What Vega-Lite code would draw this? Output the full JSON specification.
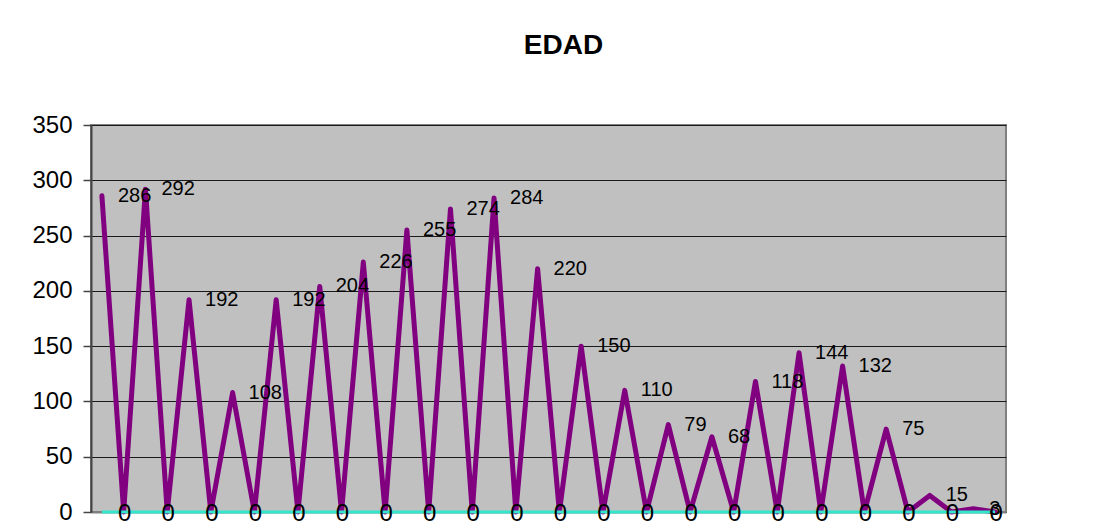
{
  "$schema": "https://vega.github.io/schema/vega-lite/v6.json",
  "autosize": "none",
  "width": 915,
  "height": 387,
  "padding": {"left": 91, "top": 125, "right": 101, "bottom": 18},
  "background": "white",
  "config": {
    "font": "Liberation Sans",
    "view": {"fill": "#C0C0C0", "stroke": "#808080", "strokeWidth": 2}
  },
  "title": {
    "text": "EDAD",
    "font": "Liberation Sans",
    "fontSize": 28,
    "fontWeight": "bold",
    "color": "black",
    "frame": "group",
    "anchor": "middle",
    "dx": 15,
    "offset": 53
  },
  "data": {
    "values": [
      {"i": 1, "v": 286}, {"i": 2, "v": 0}, {"i": 3, "v": 292}, {"i": 4, "v": 0},
      {"i": 5, "v": 192}, {"i": 6, "v": 0}, {"i": 7, "v": 108}, {"i": 8, "v": 0},
      {"i": 9, "v": 192}, {"i": 10, "v": 0}, {"i": 11, "v": 204}, {"i": 12, "v": 0},
      {"i": 13, "v": 226}, {"i": 14, "v": 0}, {"i": 15, "v": 255}, {"i": 16, "v": 0},
      {"i": 17, "v": 274}, {"i": 18, "v": 0}, {"i": 19, "v": 284}, {"i": 20, "v": 0},
      {"i": 21, "v": 220}, {"i": 22, "v": 0}, {"i": 23, "v": 150}, {"i": 24, "v": 0},
      {"i": 25, "v": 110}, {"i": 26, "v": 0}, {"i": 27, "v": 79}, {"i": 28, "v": 0},
      {"i": 29, "v": 68}, {"i": 30, "v": 0}, {"i": 31, "v": 118}, {"i": 32, "v": 0},
      {"i": 33, "v": 144}, {"i": 34, "v": 0}, {"i": 35, "v": 132}, {"i": 36, "v": 0},
      {"i": 37, "v": 75}, {"i": 38, "v": 0}, {"i": 39, "v": 15}, {"i": 40, "v": 0},
      {"i": 41, "v": 3}, {"i": 42, "v": 0}
    ]
  },
  "encoding": {
    "x": {
      "field": "i",
      "type": "ordinal",
      "scale": {"type": "point", "padding": 0.5},
      "axis": {"labels": false, "ticks": false, "title": null, "domainColor": "#808080", "domainWidth": 2}
    }
  },
  "layer": [
    {
      "mark": {"type": "line", "color": "#800080", "strokeWidth": 5, "strokeJoin": "round", "strokeCap": "round"},
      "encoding": {
        "y": {
          "field": "v",
          "type": "quantitative",
          "scale": {"domain": [0, 350], "nice": false},
          "axis": {
            "values": [0, 50, 100, 150, 200, 250, 300, 350],
            "title": null,
            "labelFontSize": 24,
            "labelColor": "black",
            "labelFont": "Liberation Sans",
            "labelPadding": 11,
            "tickSize": 8,
            "tickColor": "#444444",
            "tickWidth": 1.5,
            "domainColor": "#444444",
            "domainWidth": 2,
            "grid": true,
            "gridColor": "#1a1a1a",
            "gridWidth": 1
          }
        }
      }
    },
    {
      "mark": {"type": "line", "color": "#33E6CC", "strokeWidth": 3},
      "encoding": {"y": {"datum": 0}}
    },
    {
      "transform": [{"filter": "datum.v > 0"}],
      "mark": {"type": "text", "align": "left", "baseline": "middle", "dx": 16, "dy": 0, "fontSize": 20, "font": "Liberation Sans", "color": "black"},
      "encoding": {
        "y": {"field": "v", "type": "quantitative"},
        "text": {"field": "v", "type": "quantitative"}
      }
    },
    {
      "transform": [{"filter": "datum.v == 0"}],
      "mark": {"type": "text", "align": "center", "baseline": "middle", "dx": 1, "dy": 2, "fontSize": 24, "font": "Liberation Sans", "color": "black"},
      "encoding": {
        "y": {"field": "v", "type": "quantitative"},
        "text": {"field": "v", "type": "quantitative"}
      }
    }
  ]
}
